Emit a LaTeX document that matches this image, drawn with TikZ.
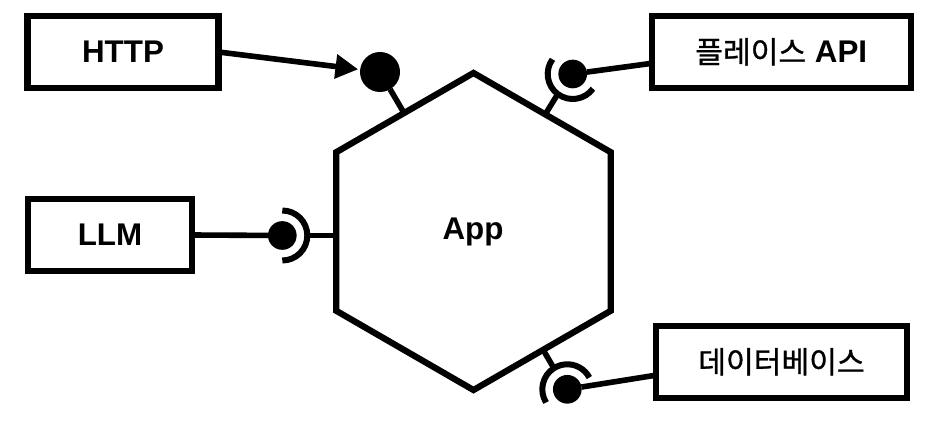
\documentclass[tikz,border=0pt]{standalone}
\usepackage{fontspec}
\setmainfont{Liberation Sans}
\newfontfamily\ko[FakeBold=1.0]{Noto Sans CJK KR}
\usetikzlibrary{shapes.geometric,arrows.meta,calc}
\tikzset{
  px/.style={x=0.75pt,y=-0.75pt},
  lbl/.style={font=\fontsize{23.5pt}{26pt}\selectfont\bfseries},
  boxnode/.style={draw=black,line width=4.7pt,rectangle,inner sep=0pt,outer sep=0pt,lbl,text height=16.5pt,text depth=0pt},
  hexnode/.style={draw=black,line width=4.7pt,regular polygon,regular polygon sides=6,regular polygon rotate=30,minimum size=237.8pt,inner sep=0pt,outer sep=0pt,line join=miter},
  ball/.style={circle,fill=black,inner sep=0pt,outer sep=0pt},
  smallball/.style={ball,minimum size=21.5pt},
  bigball/.style={ball,minimum size=30pt},
  wire/.style={draw=black,line width=4.2pt},
  sock/.style={draw=black,line width=4.5pt},
  tipped/.style={wire,-{Triangle[length=17pt,width=17.5pt]}},
}
\newcommand{\kotext}[1]{{\ko\mdseries\fontsize{22.6pt}{26pt}\selectfont #1}}
\begin{document}
\begin{tikzpicture}[px]
\useasboundingbox (0,0) rectangle (946,434);
\node[hexnode] (app) at (473.5,231.5) {};
\node[lbl] (applbl) at (473,232) {App};
\node[boxnode,minimum width=143.2pt,minimum height=54pt] (http) at (123,52) {HTTP};
\node[boxnode,minimum width=194.2pt,minimum height=54pt] (api) at (781.2,52) {\kotext{플레이스} API};
\node[boxnode,minimum width=122.5pt,minimum height=53.5pt] (llm) at (110,235) {LLM};
\node[boxnode,minimum width=188.2pt,minimum height=54pt] (db) at (781.5,362) {\kotext{데이터베이스}};
\node[bigball] (b1) at (380,72) {};
\node[smallball] (b2) at (572.7,74) {};
\node[smallball] (b3) at (282.3,235.5) {};
\node[smallball] (b4) at (567.3,389.3) {};
\coordinate (s2) at (557.8,93.9);
\coordinate (s3) at (307,235.5);
\coordinate (s4) at (553.5,367.5);
\draw[sock] (b2)+(144:25 and -25) arc[start angle=144,end angle=324,x radius=25,y radius=-25];
\draw[sock] (b3)+(90:25 and -25) arc[start angle=90,end angle=-90,x radius=25,y radius=-25];
\draw[sock] (b4)+(212:25 and -25) arc[start angle=212,end angle=28,x radius=25,y radius=-25];
\draw[wire] (b1) -- (app);
\draw[wire] (s2) -- (app);
\draw[wire] (s3) -- (s3 -| app.west);
\draw[wire] (s4) -- (app);
\draw[tipped,shorten >=1.5pt] (http.east) -- (b1);
\draw[wire] (api.185) -- (b2);
\draw[wire] (llm.east) -- (b3);
\draw[wire] (db.186) -- (b4);
\end{tikzpicture}
\end{document}
